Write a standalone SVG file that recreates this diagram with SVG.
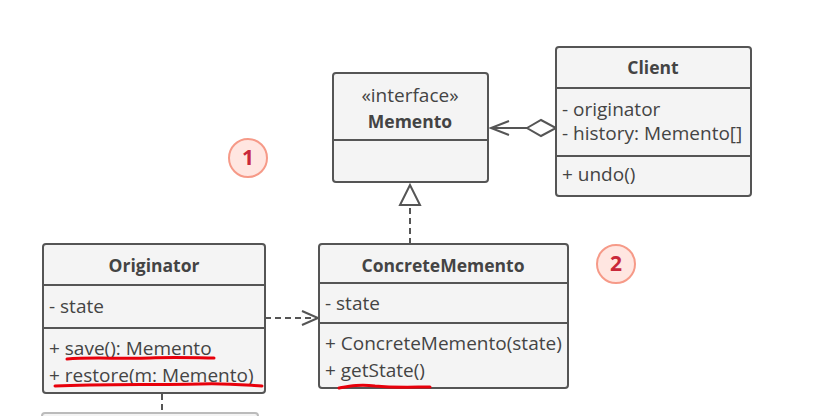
<svg xmlns="http://www.w3.org/2000/svg" width="828" height="416" viewBox="0 0 828 416">
<style>
.box{fill:#f4f4f4;stroke:#555;stroke-width:2}
.div{stroke:#555;stroke-width:2}
.t{font-family:"Open Sans","Noto Sans",sans-serif;font-size:19px;fill:#444}
.b{font-weight:bold;font-size:17.5px}
.c{text-anchor:middle}
.conn{fill:none;stroke:#555;stroke-width:2}
.dash{stroke-dasharray:6,4}
.num circle{fill:#ffe6e1;stroke:#f69a88;stroke-width:2}
.num text{font-family:"Open Sans","Noto Sans",sans-serif;font-size:21px;font-weight:bold;fill:#c9283a;text-anchor:middle}
.red{fill:none;stroke:#e8000b;stroke-width:3;stroke-linecap:round}
</style>
<rect width="828" height="416" fill="#fff"/>
<g id="connectors">
<path class="conn" d="M527,128 L491,128 M509,121 L491,128 L509,135"/>
<path d="M527,128 L541,120 L556,128 L541,136 Z" fill="#fff" stroke="#555" stroke-width="2"/>
<path class="conn dash" d="M410,244 L410,206"/>
<path d="M410,185 L400,205 L420,205 Z" fill="#fff" stroke="#555" stroke-width="2"/>
<path class="conn dash" d="M265,318 L317,318"/>
<path class="conn" d="M302,311 L318,318 L302,325"/>
<path class="conn dash" d="M162,394 L162,414"/>
</g>
<g id="memento">
<rect class="box" x="333" y="73" width="155" height="109" rx="3"/>
<line class="div" x1="333" y1="140" x2="488" y2="140"/>
<text class="t c" x="410" y="102">«interface»</text>
<text class="t b c" x="410" y="128">Memento</text>
</g>
<g id="client">
<rect class="box" x="556" y="47" width="195" height="149" rx="3"/>
<line class="div" x1="556" y1="88" x2="751" y2="88"/>
<line class="div" x1="556" y1="156" x2="751" y2="156"/>
<text class="t b c" x="653" y="74">Client</text>
<text class="t" x="562" y="116">- originator</text>
<text class="t" x="562" y="140">- history: Memento[]</text>
<text class="t" x="562" y="181">+ undo()</text>
</g>
<g id="originator">
<rect class="box" x="43" y="244" width="222" height="149" rx="3"/>
<line class="div" x1="43" y1="285" x2="265" y2="285"/>
<line class="div" x1="43" y1="328" x2="265" y2="328"/>
<text class="t b c" x="154" y="272">Originator</text>
<text class="t" x="49" y="313">- state</text>
<text class="t" x="49" y="355">+ save(): Memento</text>
<text class="t" x="49" y="382">+ restore(m: Memento)</text>
<path class="red" d="M67,359 C90,357 120,359 150,358 C175,357 200,358 214,358"/>
<path class="red" d="M55,386 C100,384 150,385 200,384 C225,383 245,385 262,386"/>
</g>
<g id="concrete-memento">
<rect class="box" x="319" y="244" width="249" height="144" rx="3"/>
<line class="div" x1="319" y1="283" x2="568" y2="283"/>
<line class="div" x1="319" y1="323" x2="568" y2="323"/>
<text class="t b c" x="443" y="272">ConcreteMemento</text>
<text class="t" x="325" y="310">- state</text>
<text class="t" x="325" y="350">+ ConcreteMemento(state)</text>
<text class="t" x="325" y="377">+ getState()</text>
<path class="red" d="M339,388 C350,386 360,384 375,386 C395,388 415,387 430,387"/>
</g>
<g id="partial-node">
<rect x="42" y="413" width="216" height="20" rx="3" fill="#f4f4f4" stroke="#bbb" stroke-width="2"/>
</g>
<g id="badge-1" class="num">
<circle cx="248" cy="158" r="19"/>
<text x="248" y="165">1</text>
</g>
<g id="badge-2" class="num">
<circle cx="616" cy="264" r="19"/>
<text x="616" y="271">2</text>
</g>
</svg>
